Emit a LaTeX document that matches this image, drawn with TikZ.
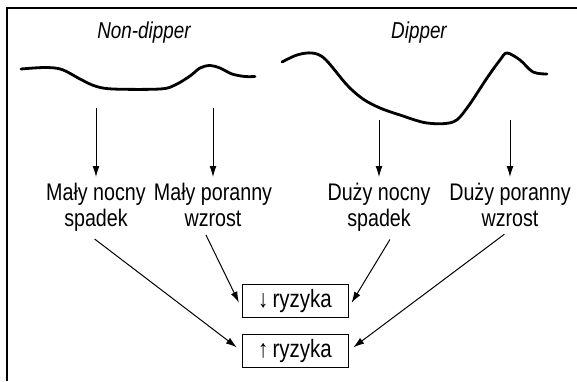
\documentclass[tikz,border=0pt]{standalone}
\usepackage{fontspec}
\newfontfamily\narrowsf{Liberation Sans}[FakeStretch=0.82]
\usetikzlibrary{arrows.meta}

\begin{document}
\begin{tikzpicture}[
    x=1pt, y=-1pt,
    heading/.style={font=\narrowsf\itshape\fontsize{23}{26}\selectfont, inner sep=0pt},
    effect/.style={font=\narrowsf\fontsize{24}{26}\selectfont, align=center,
                   anchor=north, inner xsep=0pt, inner ysep=6pt},
    risk/.style={draw, line width=0.9pt, minimum width=106pt, minimum height=33pt,
                 font=\narrowsf\fontsize{25}{26}\selectfont, inner sep=0pt},
    curve/.style={line width=2.8pt, line cap=round, line join=round},
    link/.style={->, line width=1pt},
    >={Latex[length=11pt,width=7pt]}
  ]
  \useasboundingbox (0,0) rectangle (577,381);
  \draw[line width=1.6pt] (577,8) -- (7,8) -- (7,381);

  \node[heading] (nondip) at (144,33) {Non-dipper};
  \node[heading] (dip) at (419,33) {Dipper};

  \draw[curve] plot[smooth, tension=0.55] coordinates {
    (21,69) (45,67.5) (62,69.5) (80,79) (95,86) (113,89) (160,89) (175,85)
    (190,76) (200,68) (210,65.5) (220,68) (232,74) (245,76.5) (255,76.5)};
  \draw[curve] plot[smooth, tension=0.55] coordinates {
    (282,62) (297,55) (312,53) (325,59) (347,85) (363,99) (380,108) (400,115)
    (427,123) (453,122) (467,108) (487,78) (500,60) (507,53) (520,60)
    (533,72) (547,74)};

  \coordinate (a1) at (96,108);
  \coordinate (a2) at (213,108);
  \coordinate (a3) at (379,120);
  \coordinate (a4) at (510,120);

  \node[effect] (mns) at (96,177) {Mały nocny\\spadek};
  \node[effect] (mpw) at (213,177) {Mały poranny\\wzrost};
  \node[effect] (dns) at (379,177) {Duży nocny\\spadek};
  \node[effect] (dpw) at (510,177) {Duży poranny\\wzrost};

  \node[risk] (riskdown) at (295,301) {↓\,ryzyka};
  \node[risk] (riskup) at (295,351) {↑\,ryzyka};

  \draw[link] (a1) -- (mns.north);
  \draw[link] (a2) -- (mpw.north);
  \draw[link] (a3) -- (dns.north);
  \draw[link] (a4) -- (dpw.north);

  \draw[link, shorten <=2pt, shorten >=6pt] ([xshift=-3pt]mns.south) -- (riskup.west);
  \draw[link, shorten <=2pt, shorten >=6pt] ([xshift=-8pt]mpw.south) -- ([yshift=-7pt]riskdown.west);
  \draw[link, shorten <=2pt, shorten >=6pt] ([xshift=12pt]dns.south) -- ([yshift=-7pt]riskdown.east);
  \draw[link, shorten <=2pt, shorten >=6pt] ([xshift=-4pt]dpw.south) -- (riskup.east);
\end{tikzpicture}
\end{document}
